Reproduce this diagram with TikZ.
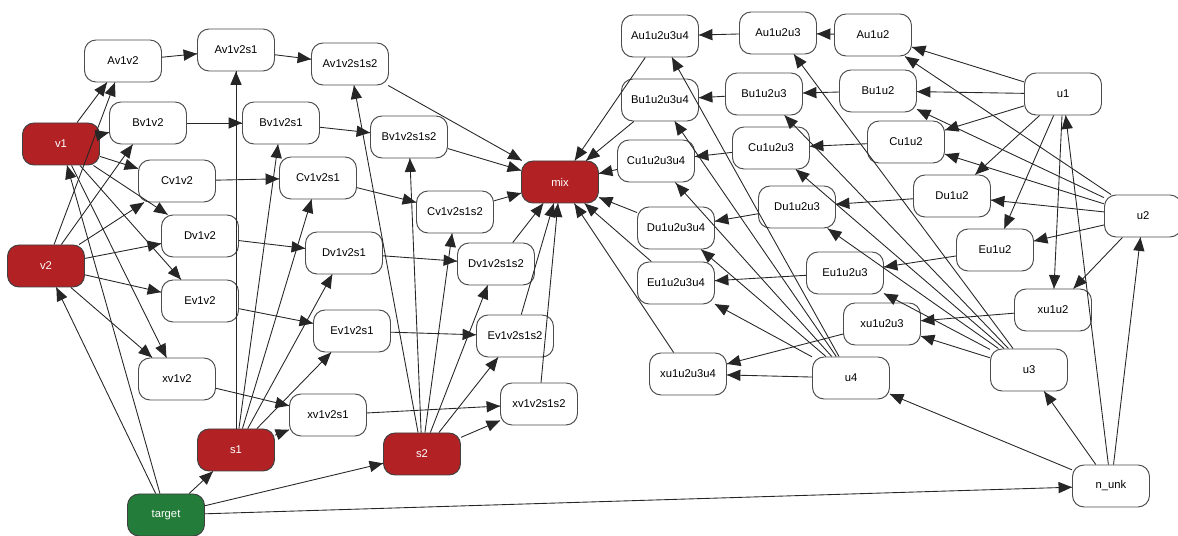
\documentclass[tikz,border=0pt]{standalone}
\usepackage{fontspec}
\setmainfont{Liberation Sans}
\usepackage{tikz}
\usetikzlibrary{arrows}
\usetikzlibrary{decorations.markings}
\definecolor{netred}{RGB}{178,34,36}
\definecolor{netgreen}{RGB}{36,124,58}
\tikzset{->/.style = {decoration={markings,
                                  mark=at position 1 with {\arrow[scale=1.15]{triangle 45}}},
                      postaction={decorate}}}
\tikzset{var/.style = {draw=black!70, fill=white, rounded corners=2.3mm, line width=0.55pt,
                       minimum width=1.54cm, minimum height=0.84cm,
                       font=\fontsize{6.4}{7.5}\selectfont}}
\tikzset{obs/.style = {var, fill=netred, draw=black!75, text=white}}
\tikzset{goal/.style = {var, fill=netgreen, draw=black!75, text=white}}
\tikzset{edge/.style = {draw=black!85, line width=0.5pt}}
\begin{document}
\begin{tikzpicture}[x=0.02cm, y=-0.02cm]
      \useasboundingbox (0, 0) rectangle (1178, 536);
      % sources
      \node [obs] (v1) at (61, 144) {v1};
      \node [obs] (v2) at (46, 266) {v2};
      \node [obs] (s1) at (236, 450) {s1};
      \node [obs] (s2) at (422, 454) {s2};
      \node [goal] (target) at (166, 515) {target};
      \node [obs] (mix) at (560, 182) {mix};
      \node [var] (u1) at (1063, 94) {u1};
      \node [var] (u2) at (1143, 216) {u2};
      \node [var] (u3) at (1029, 370) {u3};
      \node [var] (u4) at (851, 378) {u4};
      \node [var] (n_unk) at (1111, 486) {n\_unk};
      % left part
      \node [var] (Av1v2) at (123, 61) {Av1v2};
      \node [var] (Av1v2s1) at (236, 50) {Av1v2s1};
      \node [var] (Av1v2s1s2) at (350, 64) {Av1v2s1s2};
      \node [var] (Bv1v2) at (148, 123) {Bv1v2};
      \node [var] (Bv1v2s1) at (281, 123) {Bv1v2s1};
      \node [var] (Bv1v2s1s2) at (409, 137) {Bv1v2s1s2};
      \node [var] (Cv1v2) at (177, 181) {Cv1v2};
      \node [var] (Cv1v2s1) at (318, 178) {Cv1v2s1};
      \node [var] (Cv1v2s1s2) at (455, 212) {Cv1v2s1s2};
      \node [var] (Dv1v2) at (200, 236) {Dv1v2};
      \node [var] (Dv1v2s1) at (344, 253) {Dv1v2s1};
      \node [var] (Dv1v2s1s2) at (496, 264) {Dv1v2s1s2};
      \node [var] (Ev1v2) at (200, 301) {Ev1v2};
      \node [var] (Ev1v2s1) at (352, 331) {Ev1v2s1};
      \node [var] (Ev1v2s1s2) at (515, 336) {Ev1v2s1s2};
      \node [var] (xv1v2) at (177, 379) {xv1v2};
      \node [var] (xv1v2s1) at (328, 415) {xv1v2s1};
      \node [var] (xv1v2s1s2) at (539, 404) {xv1v2s1s2};
      % right part
      \node [var] (Au1u2u3u4) at (660, 36) {Au1u2u3u4};
      \node [var] (Au1u2u3) at (778, 33) {Au1u2u3};
      \node [var] (Au1u2) at (873, 35) {Au1u2};
      \node [var] (Bu1u2u3u4) at (660, 100) {Bu1u2u3u4};
      \node [var] (Bu1u2u3) at (764, 94) {Bu1u2u3};
      \node [var] (Bu1u2) at (878, 91) {Bu1u2};
      \node [var] (Cu1u2u3u4) at (656, 161) {Cu1u2u3u4};
      \node [var] (Cu1u2u3) at (771, 148) {Cu1u2u3};
      \node [var] (Cu1u2) at (906, 142) {Cu1u2};
      \node [var] (Du1u2u3u4) at (676, 228) {Du1u2u3u4};
      \node [var] (Du1u2u3) at (797, 207) {Du1u2u3};
      \node [var] (Du1u2) at (952, 196) {Du1u2};
      \node [var] (Eu1u2u3u4) at (676, 283) {Eu1u2u3u4};
      \node [var] (Eu1u2u3) at (845, 273) {Eu1u2u3};
      \node [var] (Eu1u2) at (995, 250) {Eu1u2};
      \node [var] (xu1u2u3u4) at (688, 374) {xu1u2u3u4};
      \node [var] (xu1u2u3) at (882, 324) {xu1u2u3};
      \node [var] (xu1u2) at (1053, 310) {xu1u2};
      % edges
      \foreach \dest in {v1, v2, s1, s2, n_unk}
        \draw [edge, ->] (target) -- (\dest);
      \foreach \dest in {u1, u2, u3, u4}
        \draw [edge, ->] (n_unk) -- (\dest);
      \foreach \k in {A, B, C, D, E, x} {
        \draw [edge, ->] (v1) -- (\k v1v2);
        \draw [edge, ->] (v2) -- (\k v1v2);
        \draw [edge, ->] (\k v1v2) -- (\k v1v2s1);
        \draw [edge, ->] (s1) -- (\k v1v2s1);
        \draw [edge, ->] (\k v1v2s1) -- (\k v1v2s1s2);
        \draw [edge, ->] (s2) -- (\k v1v2s1s2);
        \draw [edge, ->] (\k v1v2s1s2) -- (mix);
        \draw [edge, ->] (u1) -- (\k u1u2);
        \draw [edge, ->] (u2) -- (\k u1u2);
        \draw [edge, ->] (\k u1u2) -- (\k u1u2u3);
        \draw [edge, ->] (u3) -- (\k u1u2u3);
        \draw [edge, ->] (\k u1u2u3) -- (\k u1u2u3u4);
        \draw [edge, ->] (u4) -- (\k u1u2u3u4);
        \draw [edge, ->] (\k u1u2u3u4) -- (mix);
      }
\end{tikzpicture}
\end{document}
